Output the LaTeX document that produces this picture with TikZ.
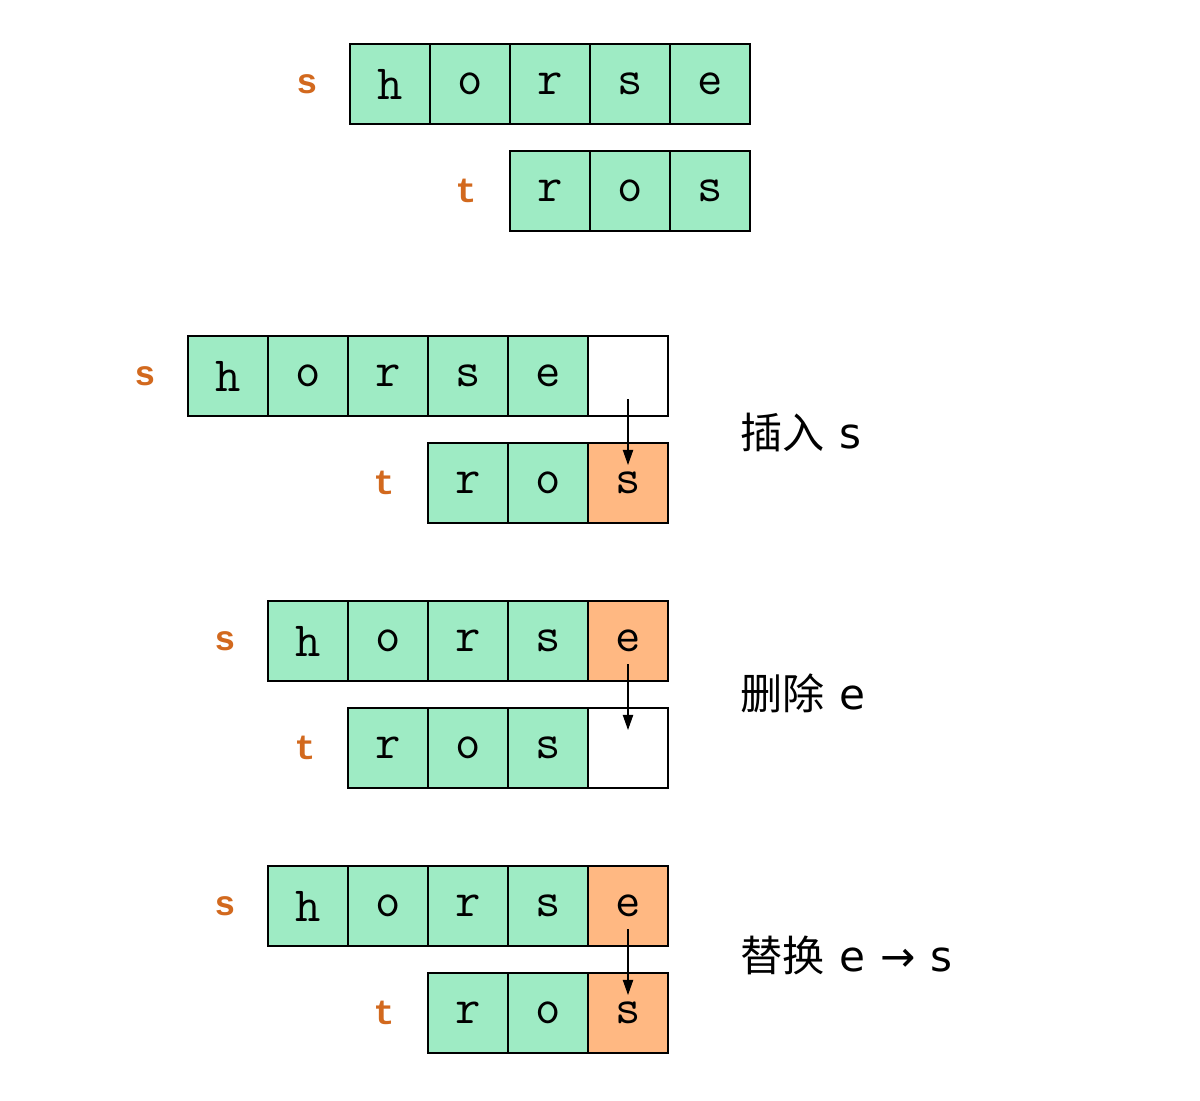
\documentclass[tikz,border=0pt]{standalone}
\usepackage{fontspec}
\setmonofont{Latin Modern Mono}
\newfontfamily\labelfont{Liberation Mono}
\newfontfamily\cjk{Noto Sans CJK SC}
\newfontfamily\latinfont{DejaVu Sans}
\usetikzlibrary{arrows.meta}
\definecolor{cellgreen}{RGB}{158,235,196}
\definecolor{cellorange}{RGB}{255,184,130}
\definecolor{labelorange}{RGB}{210,105,30}
\newcommand{\opgap}{\hspace{0.35em}}
\tikzset{
  cell/.style={rectangle,draw,line width=1pt,minimum size=2cm,inner sep=0pt,fill=cellgreen,font=\fontsize{35}{35}\selectfont\ttfamily},
  changed/.style={cell,fill=cellorange},
  empty/.style={cell,fill=white},
  strname/.style={text=labelorange,font=\fontsize{25}{25}\selectfont\labelfont\bfseries},
  opname/.style={anchor=west,inner sep=0pt,font=\fontsize{30}{30}\selectfont\cjk},
  move/.style={-{Triangle[length=0.38cm,width=0.26cm]},line width=0.8pt}
}
\begin{document}
\begin{tikzpicture}
 \useasboundingbox (0,0) rectangle (30,-27.5);
 % original strings
 \node[strname] (s0) at (7.675,-2.1) {s};
 \node[cell] (s01) at (9.75,-2.1) {h};
 \node[cell] (s02) at (11.75,-2.1) {o};
 \node[cell] (s03) at (13.75,-2.1) {r};
 \node[cell] (s04) at (15.75,-2.1) {s};
 \node[cell] (s05) at (17.75,-2.1) {e};
 \node[strname] (t0) at (11.65,-4.775) {t};
 \node[cell] (t01) at (13.75,-4.775) {r};
 \node[cell] (t02) at (15.75,-4.775) {o};
 \node[cell] (t03) at (17.75,-4.775) {s};

 % insert
 \node[strname] (s1) at (3.625,-9.4) {s};
 \node[cell] (s11) at (5.7,-9.4) {h};
 \node[cell] (s12) at (7.7,-9.4) {o};
 \node[cell] (s13) at (9.7,-9.4) {r};
 \node[cell] (s14) at (11.7,-9.4) {s};
 \node[cell] (s15) at (13.7,-9.4) {e};
 \node[empty] (s16) at (15.7,-9.4) {};
 \node[strname] (t1) at (9.6,-12.075) {t};
 \node[cell] (t11) at (11.7,-12.075) {r};
 \node[cell] (t12) at (13.7,-12.075) {o};
 \node[changed] (t13) at (15.7,-12.075) {s};
 \node[opname] (insert) at (18.5,-10.8) {插入\opgap{\latinfont s}};
 \draw[move] ([yshift=-0.58cm]s16.center) -- ([yshift=0.45cm]t13.center);

 % delete
 \node[strname] (s2) at (5.625,-16.025) {s};
 \node[cell] (s21) at (7.7,-16.025) {h};
 \node[cell] (s22) at (9.7,-16.025) {o};
 \node[cell] (s23) at (11.7,-16.025) {r};
 \node[cell] (s24) at (13.7,-16.025) {s};
 \node[changed] (s25) at (15.7,-16.025) {e};
 \node[strname] (t2) at (7.625,-18.7) {t};
 \node[cell] (t21) at (9.7,-18.7) {r};
 \node[cell] (t22) at (11.7,-18.7) {o};
 \node[cell] (t23) at (13.7,-18.7) {s};
 \node[empty] (t24) at (15.7,-18.7) {};
 \node[opname] (delete) at (18.5,-17.325) {删除\opgap{\latinfont e}};
 \draw[move] ([yshift=-0.58cm]s25.center) -- ([yshift=0.45cm]t24.center);

 % replace
 \node[strname] (s3) at (5.625,-22.65) {s};
 \node[cell] (s31) at (7.7,-22.65) {h};
 \node[cell] (s32) at (9.7,-22.65) {o};
 \node[cell] (s33) at (11.7,-22.65) {r};
 \node[cell] (s34) at (13.7,-22.65) {s};
 \node[changed] (s35) at (15.7,-22.65) {e};
 \node[strname] (t3) at (9.6,-25.325) {t};
 \node[cell] (t31) at (11.7,-25.325) {r};
 \node[cell] (t32) at (13.7,-25.325) {o};
 \node[changed] (t33) at (15.7,-25.325) {s};
 \node[opname] (replace) at (18.5,-23.875) {替换\opgap{\latinfont e\opgap{}→\opgap{}s}};
 \draw[move] ([yshift=-0.58cm]s35.center) -- ([yshift=0.45cm]t33.center);
\end{tikzpicture}
\end{document}
